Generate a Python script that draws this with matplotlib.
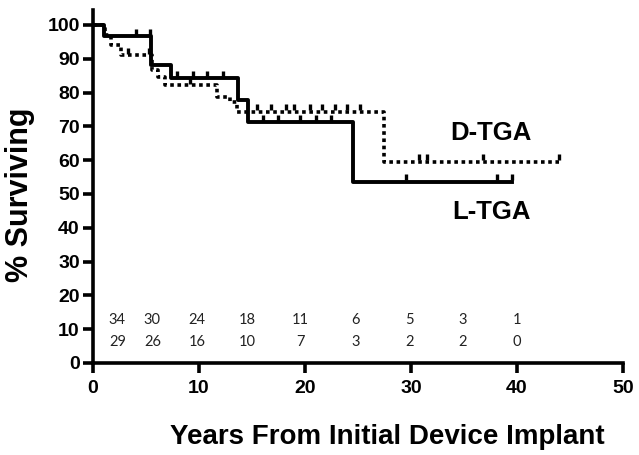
import matplotlib
matplotlib.use("Agg")
import matplotlib.pyplot as plt

# L-TGA (solid) step curve: change-point times (years) and survival (%)
l_times = [0, 1.0, 5.5, 7.4, 13.7, 14.6, 24.5, 39.5]
l_surv = [100, 96.6, 88.2, 84.3, 77.8, 71.3, 53.6, 53.6]
l_cens_t = [4.1, 5.4, 7.9, 9.4, 10.8, 12.3, 16.0, 17.5, 19.5, 21.0, 22.5, 29.5, 38.1, 39.5]

# D-TGA (dotted) step curve
d_times = [0, 1.1, 1.7, 2.6, 5.6, 6.1, 6.8, 11.7, 12.9, 13.6, 27.5, 44.0]
d_surv = [100, 97.1, 94.1, 91.1, 86.7, 84.6, 82.2, 78.7, 77.2, 74.3, 59.5, 59.5]
d_cens_t = [3.3, 5.3, 9.2, 15.5, 16.8, 18.2, 19.0, 20.5, 21.6, 22.8, 24.0, 25.2,
            30.8, 31.5, 36.8, 44.0]

# numbers at risk
risk_x = [2.3, 5.6, 9.8, 14.6, 19.6, 24.8, 29.9, 34.9, 40.0]
risk_d = [34, 30, 24, 18, 11, 6, 5, 3, 1]
risk_l = [29, 26, 16, 10, 7, 3, 2, 2, 0]

BOLD = dict(fontweight="bold", family="Liberation Sans")


def surv_at(times, surv, t):
    s = surv[0]
    for ti, si in zip(times, surv):
        if ti <= t:
            s = si
    return s


fig = plt.figure(figsize=(6.39, 4.55), dpi=100)
ax = fig.add_axes([0.1455, 0.2022, 0.8294, 0.7758])

ax.step(l_times, l_surv, where="post", color="black", lw=2.8)
ax.step(d_times, d_surv, where="post", color="black", lw=2.6,
        linestyle=(0, (1, 1.0)))

ax.plot(l_cens_t, [surv_at(l_times, l_surv, t) + 1.3 for t in l_cens_t],
        ls="none", marker="|", ms=5, mew=2.4, color="black")
ax.plot(d_cens_t, [surv_at(d_times, d_surv, t) + 1.3 for t in d_cens_t],
        ls="none", marker="|", ms=5, mew=2.4, color="black")

for x, a, b in zip(risk_x, risk_d, risk_l):
    ax.text(x, 12.7, str(a), ha="center", va="center", fontsize=10.5,
            family="Lato", color="#222222")
    ax.text(x, 6.2, str(b), ha="center", va="center", fontsize=10.5,
            family="Lato", color="#222222")

ax.text(37.5, 68.0, "D-TGA", ha="center", va="center", fontsize=18.5, **BOLD)
ax.text(37.6, 44.7, "L-TGA", ha="center", va="center", fontsize=18.5, **BOLD)

ax.set_xlim(0, 50)
ax.set_ylim(0, 104.4)
ax.set_xticks(range(0, 51, 10))
ax.set_yticks(range(0, 101, 10))
for sp in ["top", "right"]:
    ax.spines[sp].set_visible(False)
for sp in ["left", "bottom"]:
    ax.spines[sp].set_linewidth(2.6)
ax.tick_params(axis="y", width=2.6, length=7.5, direction="out",
               labelsize=14, pad=2)
ax.tick_params(axis="x", width=2.6, length=7, direction="out",
               labelsize=14, pad=5)
for lab in ax.get_xticklabels() + ax.get_yticklabels():
    lab.set_fontweight("bold")
    lab.set_family("Liberation Sans")

fig.text(20 / 639, 1 - 195 / 455, "% Surviving", rotation=90, ha="center",
         va="center", fontsize=22, **BOLD)
fig.text(387 / 639, 1 - 437 / 455, "Years From Initial Device Implant",
         ha="center", va="center", fontsize=20, **BOLD)

fig.savefig("out.png", dpi=100)
plt.close(fig)
